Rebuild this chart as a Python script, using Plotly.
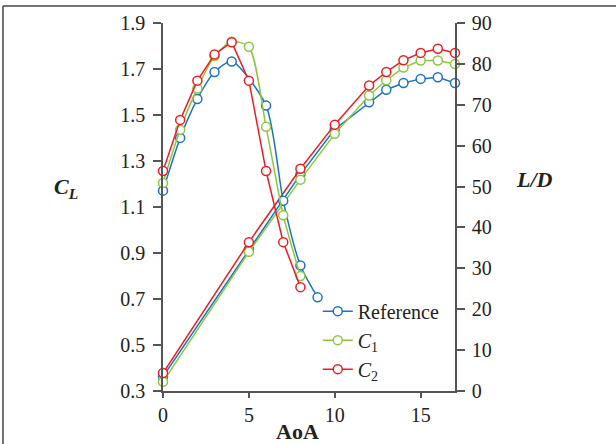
import plotly.graph_objects as go

# ---- data ----
aoa_cl = [0, 5, 8, 10, 12, 13, 14, 15, 16, 17]
cl_ref = [0.363, 0.916, 1.242, 1.438, 1.555, 1.610, 1.639, 1.657, 1.664, 1.639]
cl_c1 = [0.340, 0.905, 1.219, 1.418, 1.585, 1.651, 1.706, 1.737, 1.737, 1.722]
cl_c2 = [0.378, 0.947, 1.266, 1.458, 1.628, 1.687, 1.738, 1.770, 1.788, 1.770]

aoa_ld_ref = [0, 1, 2, 3, 4, 6, 7, 8, 9]
ld_ref = [49.0, 61.9, 71.4, 78.0, 80.6, 69.8, 46.5, 30.7, 22.9]
aoa_ld_c = [0, 1, 2, 3, 4, 5, 6, 7, 8]
ld_c1 = [50.9, 63.9, 74.0, 81.9, 85.4, 84.2, 64.6, 43.0, 28.1]
ld_c2 = [53.8, 66.3, 75.9, 82.3, 85.3, 75.9, 53.8, 36.4, 25.4]

cl_ticks = [0.3, 0.5, 0.7, 0.9, 1.1, 1.3, 1.5, 1.7, 1.9]
aoa_ticks = [0, 5, 10, 15]

names = ["Reference", "<i>C</i><sub>1</sub>", "<i>C</i><sub>2</sub>"]
colors = ["#1b75bc", "#8dc63f", "#ed1c24"]

SERIF = "Liberation Serif, Times New Roman, serif"

fig = go.Figure()

cl_sets = [cl_ref, cl_c1, cl_c2]
ld_sets = [(aoa_ld_ref, ld_ref), (aoa_ld_c, ld_c1), (aoa_ld_c, ld_c2)]
shapes_line = [dict(shape="spline", smoothing=0.7), dict(shape="spline", smoothing=0.7), dict(shape="linear")]

for i in range(3):
    mk = dict(symbol="circle", size=9, color="white", line=dict(color=colors[i], width=1.5))
    fig.add_trace(go.Scatter(
        x=aoa_cl, y=cl_sets[i], mode="lines+markers", name=names[i],
        line=dict(color=colors[i], width=1.5), marker=mk,
        legendgroup=str(i), showlegend=False, yaxis="y", cliponaxis=False))
for i in range(3):
    mk = dict(symbol="circle", size=9, color="white", line=dict(color=colors[i], width=1.5))
    xs, ys = ld_sets[i]
    fig.add_trace(go.Scatter(
        x=xs, y=ys, mode="lines+markers", name=names[i],
        line=dict(color=colors[i], width=1.5, **shapes_line[i]), marker=mk,
        legendgroup=str(i), showlegend=True, yaxis="y2", cliponaxis=False))

axis_col = "#555555"
tickfont = dict(family=SERIF, size=20, color="#222222")
titlefont = dict(family=SERIF, size=22, color="#222222")

fig.update_layout(
    width=616, height=444,
    margin=dict(l=163, r=161, t=23, b=53),
    paper_bgcolor="white", plot_bgcolor="white",
    showlegend=True,
    legend=dict(x=0.53, y=0.27, xanchor="left", yanchor="top",
                bgcolor="rgba(0,0,0,0)", font=dict(family=SERIF, size=20, color="#222222"),
                tracegroupgap=0),
    xaxis=dict(range=[0, 17], tickvals=aoa_ticks, showline=True, linecolor=axis_col,
               linewidth=1.5, ticks="outside", ticklen=5, tickwidth=1.5, tickcolor=axis_col,
               showgrid=False, zeroline=False, tickfont=tickfont),
    yaxis=dict(range=[0.3, 1.9], tickvals=cl_ticks,
               tickformat=".1f", showline=True, linecolor=axis_col, linewidth=1.5,
               ticks="outside", ticklen=8, tickwidth=1.5, tickcolor=axis_col,
               ticklabelstandoff=4,
               showgrid=False, zeroline=False, tickfont=tickfont),
    yaxis2=dict(range=[0, 90], dtick=10, overlaying="y", side="right", showline=True,
                linecolor=axis_col, linewidth=1.5, ticks="outside", ticklen=8, tickwidth=1.5,
                tickcolor=axis_col, ticklabelstandoff=3,
                showgrid=False, zeroline=False, tickfont=tickfont),
    annotations=[
        dict(text="<b><i>C</i></b><sub><b><i>L</i></b></sub>", x=-0.332, y=0.552, xref="paper", yref="paper",
             xanchor="center", yanchor="middle", showarrow=False, font=titlefont),
        dict(text="<b><i>L/D</i></b>", x=1.271, y=0.576, xref="paper", yref="paper",
             xanchor="center", yanchor="middle", showarrow=False, font=titlefont),
        dict(text="<b>AoA</b>", x=0.459, y=-0.109, xref="paper", yref="paper",
             xanchor="center", yanchor="middle", showarrow=False, font=titlefont),
    ],
    shapes=[
        dict(type="line", xref="paper", yref="paper", x0=-0.548, x1=-0.548, y0=-0.2, y1=1.046,
             line=dict(color="#444444", width=1.5)),
        dict(type="line", xref="paper", yref="paper", x0=-0.548, x1=1.6, y0=1.046, y1=1.046,
             line=dict(color="#444444", width=1.5)),
    ],
)

fig.write_html("out.html", config={"displayModeBar": False},
               post_script="document.body.style.margin='0';document.body.style.padding='0';")
